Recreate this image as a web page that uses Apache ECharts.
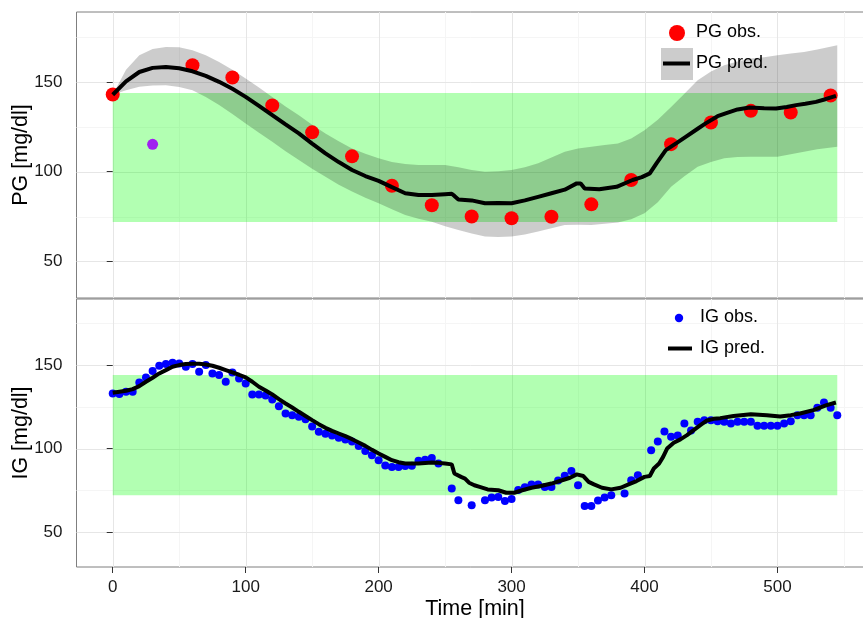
<!DOCTYPE html>
<html>
<head>
<meta charset="utf-8">
<title>Plasma and interstitial glucose</title>
<script src="https://cdn.jsdelivr.net/npm/echarts@6/dist/echarts.min.js"></script>
<style>
  html, body { margin: 0; padding: 0; background: #ffffff; }
  #chart { width: 863px; height: 618px; }
</style>
</head>
<body>
<div id="chart"></div>
<script>
// ---------- data ----------
// Plasma glucose (PG) reference samples, mg/dl
const pgObsTime = [0, 60, 90, 120, 150, 180, 210, 240, 270, 300, 330, 360, 390, 420, 450, 480, 510, 540];
const pgObs = [143.1, 159.5, 152.6, 137.0, 122.0, 108.6, 92.2, 81.3, 75.0, 74.0, 74.9, 81.8, 95.4, 115.4, 127.5, 134.0, 133.1, 142.6];

// PG sample left out of the fit
const pgOutlierTime = [30];
const pgOutlier = [115.3];

// Predicted PG
const pgPredTime = [0, 10, 20, 30, 40, 50, 60, 70, 80, 90, 100, 110, 120, 130, 140, 150, 160, 170, 180, 190,
  200, 210, 220, 230, 240, 250, 255, 257, 260, 270, 280, 290, 300, 310, 320, 330, 340, 349, 352, 355,
  366, 379, 391, 398, 404, 409, 416, 424, 431, 440, 446, 455, 461, 470, 479, 490, 499, 507, 514, 521,
  529, 536, 544];
const pgPred = [143.0, 150.5, 155.7, 158.0, 158.5, 157.8, 156.1, 153.5, 150.2, 146.3, 141.8, 136.8, 131.6, 126.4, 121.4, 115.7, 110.3, 105.4, 101.0, 97.6,
  94.9, 91.4, 88.0, 87.0, 87.0, 87.5, 87.7, 86.5, 84.5, 84.0, 82.4, 82.5, 82.4, 84.0, 86.0, 88.0, 90.0, 93.5, 93.5, 90.7,
  90.2, 91.6, 95.4, 97.0, 99.1, 104.7, 112.1, 116.0, 119.5, 124.0, 127.0, 131.0, 132.6, 134.8, 135.9, 135.5, 135.3, 136.2, 137.2, 138.0,
  139.0, 140.5, 142.4];

// Prediction band for PG
const pgBandTime = [0, 10, 20, 30, 40, 50, 60, 70, 80, 90, 100, 110, 120, 130, 140, 150, 160, 170, 180, 190,
  200, 210, 220, 230, 240, 250, 260, 270, 280, 290, 300, 310, 320, 330, 340, 350, 360, 370, 380, 390,
  400, 410, 420, 430, 440, 450, 460, 470, 480, 490, 500, 510, 520, 530, 545];
const pgBandLower = [143.0, 145.5, 147.4, 148.2, 148.3, 147.3, 145.5, 141.8, 137.2, 132.2, 127.0, 121.8, 116.7, 111.5, 106.5, 101.7, 97.2, 92.8, 88.9, 85.5,
  82.4, 79.0, 75.9, 73.8, 72.1, 69.5, 67.5, 65.5, 63.8, 63.6, 63.8, 65.0, 66.6, 68.5, 70.3, 70.4, 70.3, 71.0, 71.6, 73.5,
  76.8, 83.0, 91.6, 97.5, 102.8, 105.5, 107.5, 108.2, 108.4, 108.4, 108.4, 109.8, 111.2, 112.5, 114.0];
const pgBandUpper = [143.0, 157.0, 165.0, 168.5, 169.7, 169.5, 167.8, 165.0, 161.3, 157.0, 152.0, 147.0, 141.8, 136.5, 131.6, 126.2, 121.4, 117.0, 113.0, 110.0,
  107.5, 105.5, 104.3, 103.8, 103.7, 103.7, 102.5, 101.0, 100.0, 100.3, 101.0, 102.5, 104.7, 108.0, 111.2, 113.0, 114.0, 115.0, 115.8, 118.5,
  123.2, 129.0, 136.2, 143.5, 151.1, 156.0, 159.5, 161.5, 163.2, 164.0, 165.0, 166.0, 166.9, 168.3, 170.6];

// Interstitial glucose (IG) sensor readings, mg/dl (null = no reading)
const igObsTime = [0, 5, 10, 15, 20, 25, 30, 35, 40, 45, 50, 55, 60, 65, 70, 75, 80, 85, 90, 95,
  100, 105, 110, 115, 120, 125, 130, 135, 140, 145, 150, 155, 160, 165, 170, 175, 180, 185, 190, 195,
  200, 205, 210, 215, 220, 225, 230, 235, 240, 245, 250, 255, 260, 265, 270, 275, 280, 285, 290, 295,
  300, 305, 310, 315, 320, 325, 330, 335, 340, 345, 350, 355, 360, 365, 370, 375, 380, 385, 390, 395,
  400, 405, 410, 415, 420, 425, 430, 435, 440, 445, 450, 455, 460, 465, 470, 475, 480, 485, 490, 495,
  500, 505, 510, 515, 520, 525, 530, 535, 540, 545];
const igObs = [133.0, 132.6, 134.0, 134.0, 139.6, 142.6, 146.4, 149.6, 150.6, 151.4, 151.0, 149.0, 150.6, 146.0, 150.0, 145.0, 144.0, 140.0, 145.6, 142.0,
  139.0, 132.4, 132.4, 131.8, 129.4, 125.4, 121.0, 120.0, 119.0, 117.6, 113.2, 110.0, 108.8, 107.8, 106.5, 105.4, 104.2, 101.5, 98.5, 96.0,
  93.0, 89.8, 89.0, 89.0, 89.5, 89.6, 92.6, 93.2, 94.3, 91.0, null, 76.0, 69.0, null, 66.0, null, 69.0, 70.6, 71.0, 68.6,
  69.8, 75.2, 76.8, 78.4, 78.4, 77.0, 77.0, 80.8, 83.7, 86.6, 78.0, 65.6, 65.6, 68.8, 70.6, 72.0, null, 73.0, 81.0, 84.0,
  null, 99.0, 104.2, 110.2, 107.0, 107.8, 115.0, 110.8, 116.0, 117.0, 117.0, 116.4, 116.0, 115.0, 116.0, 116.0, 116.0, 113.6, 113.6, 113.6,
  113.6, 115.0, 116.4, 120.0, 120.0, 120.0, 124.4, 127.6, 124.4, 120.0];

// Predicted IG
const igPredTime = [0, 5, 10, 15, 20, 25, 30, 35, 40, 45, 50, 55, 60, 65, 70, 75, 80, 85, 90, 95,
  100, 105, 110, 115, 120, 125, 130, 135, 140, 145, 150, 155, 160, 165, 170, 175, 180, 185, 190, 195,
  200, 205, 210, 215, 220, 225, 230, 235, 240, 245, 250, 255, 257, 262, 265, 268, 272, 276, 282, 290,
  296, 302, 308, 315, 322, 330, 338, 344, 349, 354, 358, 362, 368, 375, 382, 388, 394, 400, 404, 407,
  411, 414, 417, 422, 427, 432, 437, 442, 447, 452, 457, 467, 480, 492, 502, 510, 517, 527, 537, 544];
const igPred = [133.4, 134.0, 134.6, 135.6, 137.4, 140.0, 142.4, 145.0, 147.0, 149.0, 150.0, 150.6, 150.8, 150.8, 150.4, 149.6, 148.4, 147.0, 145.6, 144.2,
  142.6, 140.0, 137.0, 134.8, 132.4, 129.6, 127.0, 124.6, 122.0, 119.5, 117.0, 114.6, 112.4, 110.6, 109.0, 107.4, 105.6, 103.6, 101.6, 99.2,
  97.0, 95.0, 93.0, 91.8, 91.0, 91.0, 91.0, 91.3, 91.6, 91.4, 91.0, 90.5, 85.0, 83.0, 82.0, 79.5, 78.0, 77.0, 75.5, 75.0,
  73.5, 73.5, 75.0, 76.5, 77.5, 79.0, 81.0, 82.5, 84.5, 83.5, 80.0, 78.5, 76.5, 75.5, 76.5, 78.5, 80.5, 83.0, 83.5, 88.0,
  91.0, 95.0, 100.0, 103.5, 105.5, 108.0, 111.0, 114.0, 116.8, 117.8, 118.2, 119.5, 120.5, 120.0, 119.2, 120.0, 121.0, 123.0, 126.0, 127.6];

// Target glucose range and the period it is shown for
const targetRange = [72, 144];
const targetTime = [0, 545];

// Axis ticks and grid lines
const timeTicks = [0, 100, 200, 300, 400, 500];
const timeMinor = [50, 150, 250, 350, 450, 550];
const glucoseTicks = [50, 100, 150];
const glucoseMinor = [75, 125, 175];

// ---------- chart ----------
const FONT = '"Liberation Sans", Arial, Helvetica, sans-serif';
const TIME_MIN = -27.25, TIME_MAX = 572.25;

const pairs = (xs, ys) => xs.map((x, i) => [x, ys[i]]).filter(p => p[1] !== null);

function gridLines(idx, xs, ys, color, width, z) {
  const data = xs.map(v => [v, v, 0]).concat(ys.map(v => [v, v, 1]));
  return {
    type: 'custom', xAxisIndex: idx, yAxisIndex: idx, silent: true, z: z,
    data: data,
    renderItem: function (params, api) {
      const cs = params.coordSys;
      const p = api.coord([api.value(0), api.value(1)]);
      const horizontal = api.value(2) === 1;
      const shape = horizontal
        ? { x1: cs.x, y1: Math.round(p[1]) + 0.5, x2: cs.x + cs.width, y2: Math.round(p[1]) + 0.5 }
        : { x1: Math.round(p[0]) + 0.5, y1: cs.y, x2: Math.round(p[0]) + 0.5, y2: cs.y + cs.height };
      return { type: 'line', shape: shape, style: { stroke: color, lineWidth: width } };
    }
  };
}

function targetBand(idx) {
  return {
    type: 'custom', xAxisIndex: idx, yAxisIndex: idx, silent: true, z: 1,
    data: [[targetTime[0], targetRange[0], targetTime[1], targetRange[1]]],
    renderItem: function (params, api) {
      const a = api.coord([api.value(0), api.value(3)]);
      const b = api.coord([api.value(2), api.value(1)]);
      return {
        type: 'rect',
        shape: { x: a[0], y: a[1], width: b[0] - a[0], height: b[1] - a[1] },
        style: { fill: 'rgba(0,255,0,0.3)' }
      };
    }
  };
}

// Prediction band drawn as one polygon: upper edge forward, lower edge back
const pgBandData = pgBandTime.map((t, i) => [t, pgBandLower[i], pgBandUpper[i]]);
const pgBandSeries = {
  type: 'custom', xAxisIndex: 0, yAxisIndex: 0, silent: true, z: 2,
  data: pgBandData,
  encode: { x: 0, y: [1, 2] },
  renderItem: function (params, api) {
    if (params.dataIndex !== 0) return null;
    const upper = pgBandData.map(d => api.coord([d[0], d[2]]));
    const lower = pgBandData.map(d => api.coord([d[0], d[1]])).reverse();
    return {
      type: 'polygon',
      shape: { points: upper.concat(lower) },
      style: { fill: 'rgba(0,0,0,0.2)' }
    };
  }
};

function timeAxis(idx, showLabels) {
  return {
    gridIndex: idx, type: 'value', min: TIME_MIN, max: TIME_MAX,
    axisLine: { show: false },
    splitLine: { show: false },
    axisTick: { show: showLabels, customValues: timeTicks, length: 6, lineStyle: { color: '#333333', width: 1 } },
    axisLabel: { show: showLabels, customValues: timeTicks, margin: 12, fontSize: 17, color: '#1a1a1a', fontFamily: FONT },
    name: showLabels ? 'Time [min]' : '',
    nameLocation: 'middle', nameGap: 31, nameMoveOverlap: false,
    nameTextStyle: { fontSize: 21.5, color: '#000000', fontFamily: FONT }
  };
}

function glucoseAxis(idx, name, min, max) {
  return {
    gridIndex: idx, type: 'value', min: min, max: max,
    axisLine: { show: false },
    splitLine: { show: false },
    axisTick: { show: true, customValues: glucoseTicks, length: 6, lineStyle: { color: '#333333', width: 1 } },
    axisLabel: { customValues: glucoseTicks, margin: 14, fontSize: 17, color: '#1a1a1a', fontFamily: FONT },
    name: name, nameLocation: 'middle', nameGap: 44, nameMoveOverlap: false,
    nameTextStyle: { fontSize: 21.5, color: '#000000', fontFamily: FONT }
  };
}

const legendText = { fontSize: 18, fontFamily: FONT, fill: '#000000', verticalAlign: 'middle', align: 'left' };

const gridBase = { left: 76.5, width: 797, show: true, borderColor: '#7f7f7f', borderWidth: 1,
  backgroundColor: 'transparent', containLabel: false, outerBoundsMode: 'none' };

const option = {
  backgroundColor: '#ffffff',
  animation: false,
  grid: [
    Object.assign({ top: 12, height: 286 }, gridBase),
    Object.assign({ top: 299, height: 268 }, gridBase)
  ],
  xAxis: [timeAxis(0, false), timeAxis(1, true)],
  yAxis: [
    glucoseAxis(0, 'PG [mg/dl]', 29.5, 189.2),
    glucoseAxis(1, 'IG [mg/dl]', 29, 189.6)
  ],
  series: [
    // grid lines
    gridLines(0, timeMinor, glucoseMinor, '#f5f5f5', 1, 0),
    gridLines(0, timeTicks, glucoseTicks, '#e6e6e6', 1, 0),
    gridLines(1, timeMinor, glucoseMinor, '#f5f5f5', 1, 0),
    gridLines(1, timeTicks, glucoseTicks, '#e6e6e6', 1, 0),
    // target range
    targetBand(0),
    targetBand(1),
    // PG prediction band
    pgBandSeries,
    // PG observations
    {
      name: 'PG obs.', type: 'scatter', xAxisIndex: 0, yAxisIndex: 0, z: 3,
      symbolSize: 14, itemStyle: { color: '#ff0000', opacity: 1 },
      data: pairs(pgObsTime, pgObs)
    },
    {
      name: 'PG excluded', type: 'scatter', xAxisIndex: 0, yAxisIndex: 0, z: 3,
      symbolSize: 11, itemStyle: { color: '#a020f0', opacity: 1 },
      data: pairs(pgOutlierTime, pgOutlier)
    },
    // PG prediction
    {
      name: 'PG pred.', type: 'line', xAxisIndex: 0, yAxisIndex: 0, z: 4,
      symbol: 'none', lineStyle: { color: '#000000', width: 4 },
      data: pairs(pgPredTime, pgPred)
    },
    // IG observations
    {
      name: 'IG obs.', type: 'scatter', xAxisIndex: 1, yAxisIndex: 1, z: 3,
      symbolSize: 8, itemStyle: { color: '#0000ff', opacity: 1 },
      data: pairs(igObsTime, igObs)
    },
    // IG prediction
    {
      name: 'IG pred.', type: 'line', xAxisIndex: 1, yAxisIndex: 1, z: 4,
      symbol: 'none', lineStyle: { color: '#000000', width: 4 },
      data: pairs(igPredTime, igPred)
    }
  ],
  graphic: [
    // PG legend
    { type: 'circle', shape: { cx: 677, cy: 33, r: 8 }, style: { fill: '#ff0000' }, z: 10 },
    { type: 'text', left: 696, top: 23, style: Object.assign({ text: 'PG obs.' }, legendText), z: 10 },
    { type: 'rect', shape: { x: 661, y: 48, width: 32, height: 32 }, style: { fill: '#cccccc' }, z: 10 },
    { type: 'line', shape: { x1: 663, y1: 63.5, x2: 690, y2: 63.5 }, style: { stroke: '#000000', lineWidth: 4 }, z: 11 },
    { type: 'text', left: 696, top: 54, style: Object.assign({ text: 'PG pred.' }, legendText), z: 10 },
    // IG legend
    { type: 'circle', shape: { cx: 679, cy: 318, r: 4.2 }, style: { fill: '#0000ff' }, z: 10 },
    { type: 'text', left: 700, top: 308, style: Object.assign({ text: 'IG obs.' }, legendText), z: 10 },
    { type: 'line', shape: { x1: 668, y1: 348.5, x2: 692, y2: 348.5 }, style: { stroke: '#000000', lineWidth: 4 }, z: 11 },
    { type: 'text', left: 700, top: 339, style: Object.assign({ text: 'IG pred.' }, legendText), z: 10 }
  ]
};

const chart = echarts.init(document.getElementById('chart'), null, { renderer: 'canvas' });
chart.setOption(option);
</script>
</body>
</html>
